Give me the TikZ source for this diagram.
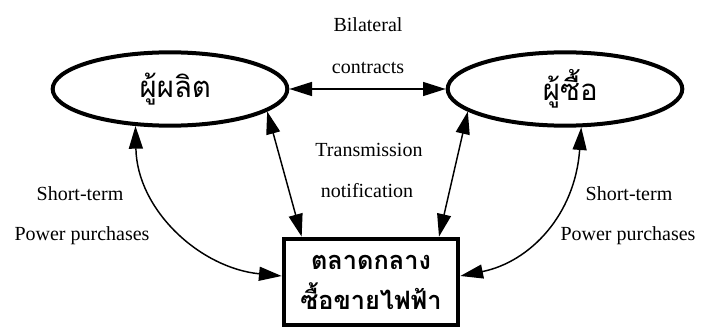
\documentclass[tikz,border=0pt]{standalone}
\usepackage{fontspec}
\setmainfont{Liberation Serif}
\newfontfamily\thaifont[Script=Thai]{Loma}
\usetikzlibrary{shapes.geometric,arrows.meta}
\begin{document}
\begin{tikzpicture}[x=0.75pt,y=-0.75pt,
  party/.style={ellipse,draw,line width=3pt,minimum width=176pt,minimum height=55pt,
    inner sep=0pt,font=\thaifont\fontsize{22}{26}\selectfont},
  market/.style={rectangle,draw,line width=3pt,minimum width=131pt,minimum height=65pt,
    inner sep=0pt,align=center,font=\thaifont\bfseries\fontsize{19}{30}\selectfont},
  flow/.style={line width=1.1pt,{Triangle[length=17pt,width=10.5pt]}-{Triangle[length=17pt,width=10.5pt]}},
  lbl/.style={anchor=base,font=\fontsize{15}{18}\selectfont,inner sep=0pt}]
\useasboundingbox (0,0) rectangle (701,328);

\node[party] (prod) at (170,89) {\hspace{8pt}ผู้ผลิต};
\node[party] (buy) at (565,89) {\hspace{8pt}ผู้ซื้อ};
\node[market] (mkt) at (371,282) {ตลาดกลาง\\ซื้อขายไฟฟ้า};

% bilateral contracts
\draw[flow] (prod.east) -- (buy.west);
% transmission notification
\draw[flow] (prod.-13) -- ([xshift=15pt]mkt.north west);
\draw[flow] (buy.193) -- ([xshift=-16pt]mkt.north east);
% short-term purchases
\draw[flow] (prod.227) .. controls (137,210) and (200,268) .. ([yshift=4.5pt]mkt.west);
\draw[flow] (buy.-67) .. controls (575,215) and (530,262) .. ([yshift=4.5pt]mkt.east);

\node[lbl] (t1) at (368,32) {Bilateral};
\node[lbl] (t2) at (368,74) {contracts};
\node[lbl] (t3) at (369,157) {Transmission};
\node[lbl] (t4) at (367,198) {notification};
\node[lbl] (t5) at (80,200) {Short-term};
\node[lbl] (t6) at (82,240) {Power purchases};
\node[lbl] (t7) at (629,200) {Short-term};
\node[lbl] (t8) at (628,240) {Power purchases};
\end{tikzpicture}
\end{document}
